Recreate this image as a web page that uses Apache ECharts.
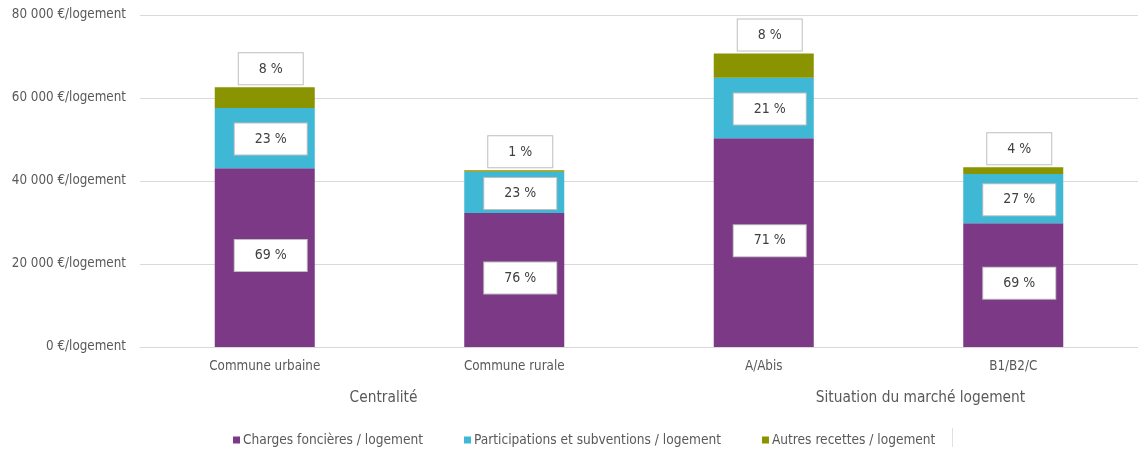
<!DOCTYPE html>
<html>
<head>
<meta charset="utf-8">
<script src="https://cdn.jsdelivr.net/npm/echarts@6/dist/echarts.min.js"></script>
<style>
  html, body { margin: 0; padding: 0; background: #fff; }
  #chart { width: 1138px; height: 450px; }
</style>
</head>
<body>
<div id="chart"></div>
<script>
// Recettes par logement, ventilées par type, selon la centralité et la zone de marché
const categories = ['Commune urbaine', 'Commune rurale', 'A/Abis', 'B1/B2/C'];
const groupLabels = ['Centralité', 'Situation du marché logement'];
const seriesNames = ['Charges foncières / logement', 'Participations et subventions / logement', 'Autres recettes / logement'];
const chargesFoncieres = [43100, 32300, 50300, 29800];
const participations = [14500, 9900, 14600, 11900];
const autresRecettes = [5000, 400, 5800, 1600];
const yTicks = [0, 20000, 40000, 60000, 80000];

const FONT = '"Liberation Sans Narrow", "DejaVu Sans Condensed", "Liberation Sans", sans-serif';
const TEXT = '#595959';
const colors = ['#7b3986', '#3fb8d6', '#8a9300'];
const allSeries = [chargesFoncieres, participations, autresRecettes];
const totals = categories.map((_, i) => allSeries.reduce((s, arr) => s + arr[i], 0));

function pct(params) {
  return Math.round(params.value / totals[params.dataIndex] * 100) + ' %';
}

const boxLabel = {
  show: true,
  formatter: pct,
  color: '#404040',
  fontFamily: FONT,
  fontSize: 14,
  backgroundColor: '#ffffff',
  borderColor: '#bfbfbf',
  borderWidth: 1,
  padding: [9, 20, 8, 20]
};

function fmtY(v) {
  return String(v).replace(/\B(?=(\d{3})+(?!\d))/g, ' ') + ' €/logement';
}

const chart = echarts.init(document.getElementById('chart'), null, { renderer: 'canvas' });
chart.setOption({
  animation: false,
  backgroundColor: '#ffffff',
  color: colors,
  grid: { left: 140, right: 0, top: 15, bottom: 103 },
  legend: {
    data: seriesNames,
    left: 228,
    top: 428,
    icon: 'rect',
    itemWidth: 7,
    itemHeight: 7,
    itemGap: 41,
    textStyle: { color: TEXT, fontFamily: FONT, fontSize: 13.6, padding: [0, 0, 0, -2] }
  },
  graphic: [
    {
      type: 'line',
      shape: { x1: 952.5, y1: 428, x2: 952.5, y2: 447 },
      style: { stroke: '#e0e0e0', lineWidth: 1 }
    }
  ],
  xAxis: [
    {
      type: 'category',
      data: categories,
      axisLine: { lineStyle: { color: '#d9d9d9' } },
      axisTick: { show: false },
      axisLabel: { color: TEXT, fontFamily: FONT, fontSize: 13.3, margin: 13 }
    },
    {
      type: 'category',
      data: groupLabels,
      position: 'bottom',
      offset: 30,
      axisLine: { show: false },
      axisTick: { show: false },
      axisLabel: {
        color: TEXT, fontFamily: FONT, fontSize: 15.3, margin: 14,
        formatter: (v, i) => i === 0 ? '{a|' + v + '}' : '{b|' + v + '}',
        rich: {
          a: { color: TEXT, fontFamily: FONT, fontSize: 15.3, padding: [0, 12, 0, 0] },
          b: { color: TEXT, fontFamily: FONT, fontSize: 15.3, padding: [0, 0, 0, 64] }
        }
      }
    }
  ],
  yAxis: {
    type: 'value',
    min: yTicks[0],
    max: yTicks[yTicks.length - 1],
    interval: yTicks[1] - yTicks[0],
    axisLine: { show: false },
    axisTick: { show: false },
    splitLine: { lineStyle: { color: '#d9d9d9' } },
    axisLabel: { color: TEXT, fontFamily: FONT, fontSize: 13.3, margin: 14, formatter: fmtY }
  },
  series: [
    {
      name: seriesNames[0], type: 'bar', stack: 'total', barWidth: 100,
      data: chargesFoncieres,
      label: Object.assign({}, boxLabel, { position: 'inside', offset: [6, -2] })
    },
    {
      name: seriesNames[1], type: 'bar', stack: 'total', barWidth: 100,
      data: participations,
      label: Object.assign({}, boxLabel, { position: 'inside', offset: [6, 1] })
    },
    {
      name: seriesNames[2], type: 'bar', stack: 'total', barWidth: 100,
      data: autresRecettes,
      label: Object.assign({}, boxLabel, { position: 'top', distance: 3, offset: [6, 0] })
    }
  ]
});
</script>
</body>
</html>
